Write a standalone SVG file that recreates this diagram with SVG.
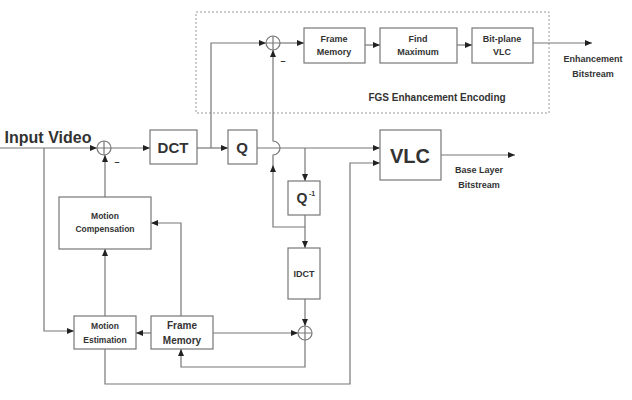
<svg xmlns="http://www.w3.org/2000/svg" width="632" height="400" viewBox="0 0 632 400">
<defs>
<marker id="a" markerWidth="8" markerHeight="8" refX="7" refY="4" orient="auto" markerUnits="userSpaceOnUse"><path d="M0,1 L7,4 L0,7 Z" fill="#222"/></marker>
<style>
.b{fill:#fff;stroke:#777;stroke-width:1.2}
.l{fill:none;stroke:#777;stroke-width:1.2}
.t{font-family:"Liberation Sans",Arial,sans-serif;font-weight:bold;fill:#333;text-anchor:middle}
</style>
</defs>
<rect x="0" y="0" width="632" height="400" fill="#fff"/>
<rect x="196" y="12" width="353" height="101" fill="none" stroke="#999" stroke-dasharray="2,2"/>
<text class="t" x="437" y="101" font-size="10">FGS Enhancement Encoding</text>
<g id="connectors" class="l">
<path d="M0,148 H97" marker-end="url(#a)"/>
<path d="M44,148 V331 H74" marker-end="url(#a)"/>
<path d="M111,148 H150" marker-end="url(#a)"/>
<path d="M197,148 H228" marker-end="url(#a)"/>
<path d="M211,148 V43 H266" marker-end="url(#a)"/>
<path d="M280,43 H304" marker-end="url(#a)"/>
<path d="M365,45 H380" marker-end="url(#a)"/>
<path d="M457,45 H472" marker-end="url(#a)"/>
<path d="M533,43 H592" marker-end="url(#a)"/>
<path d="M257,148 H380" marker-end="url(#a)"/>
<path d="M305,148 V181" marker-end="url(#a)"/>
<path d="M305,215 V248" marker-end="url(#a)"/>
<path d="M305,227 H273 V165" marker-end="url(#a)"/>
<path d="M273,165 V155 A7,7 0 0 0 273,141 V50" marker-end="url(#a)"/>
<path d="M305,299 V326" marker-end="url(#a)"/>
<path d="M151,333 H136" marker-end="url(#a)"/>
<path d="M213,333 H298" marker-end="url(#a)"/>
<path d="M305,340 V367 H181 V349" marker-end="url(#a)"/>
<path d="M181,316 V223 H151" marker-end="url(#a)"/>
<path d="M105,316 V249" marker-end="url(#a)"/>
<path d="M105,197 V155" marker-end="url(#a)"/>
<path d="M105,349 V384 H350 V163 H380" marker-end="url(#a)"/>
<path d="M441,155 H515" marker-end="url(#a)"/>
</g>
<text class="t" x="283" y="64" font-size="9">–</text>
<text class="t" x="117" y="165" font-size="9">–</text>
<g id="sum1"><circle class="b" cx="104" cy="148" r="7"/><path class="l" d="M97,148 H111 M104,141 V155"/></g>
<g id="sum2"><circle class="b" cx="273" cy="43" r="7"/><path class="l" d="M266,43 H280 M273,36 V50"/></g>
<g id="sum3"><circle class="b" cx="305" cy="333" r="7"/><path class="l" d="M298,333 H312 M305,326 V340"/></g>
<g id="input"><text class="t" x="48" y="143" font-size="16" text-anchor="middle">Input Video</text></g>
<g id="dct"><rect class="b" x="150" y="130" width="47" height="34"/><text class="t" x="173" y="153" font-size="15">DCT</text></g>
<g id="q"><rect class="b" x="228" y="130" width="29" height="34"/><text class="t" x="242" y="153" font-size="15">Q</text></g>
<g id="vlc"><rect class="b" x="380" y="130" width="61" height="50"/><text class="t" x="410" y="163" font-size="20">VLC</text></g>
<g id="fm1"><rect class="b" x="304" y="28" width="61" height="35"/><text class="t" x="334" y="42" font-size="9">Frame</text><text class="t" x="334" y="55" font-size="9">Memory</text></g>
<g id="fmax"><rect class="b" x="380" y="28" width="77" height="35"/><text class="t" x="418" y="42" font-size="9">Find</text><text class="t" x="418" y="55" font-size="9">Maximum</text></g>
<g id="bpvlc"><rect class="b" x="472" y="28" width="61" height="35"/><text class="t" x="502" y="42" font-size="9">Bit-plane</text><text class="t" x="502" y="55" font-size="9">VLC</text></g>
<g id="enh"><text class="t" x="593" y="62" font-size="9">Enhancement</text><text class="t" x="593" y="77" font-size="9">Bitstream</text></g>
<g id="base"><text class="t" x="479" y="173" font-size="9">Base Layer</text><text class="t" x="479" y="188" font-size="9">Bitstream</text></g>
<g id="qinv"><rect class="b" x="288" y="181" width="32" height="34"/><text class="t" x="302" y="203" font-size="14">Q</text><text class="t" x="312" y="196" font-size="7">-1</text></g>
<g id="idct"><rect class="b" x="288" y="248" width="32" height="51"/><text class="t" x="304" y="277" font-size="9">IDCT</text></g>
<g id="mc"><rect class="b" x="59" y="197" width="92" height="52"/><text class="t" x="105" y="219" font-size="8.5">Motion</text><text class="t" x="105" y="232" font-size="8.5">Compensation</text></g>
<g id="me"><rect class="b" x="74" y="316" width="62" height="33"/><text class="t" x="105" y="329" font-size="8.5">Motion</text><text class="t" x="105" y="343" font-size="8.5">Estimation</text></g>
<g id="fm2"><rect class="b" x="151" y="316" width="62" height="33"/><text class="t" x="182" y="329" font-size="10">Frame</text><text class="t" x="182" y="344" font-size="10">Memory</text></g>
</svg>
